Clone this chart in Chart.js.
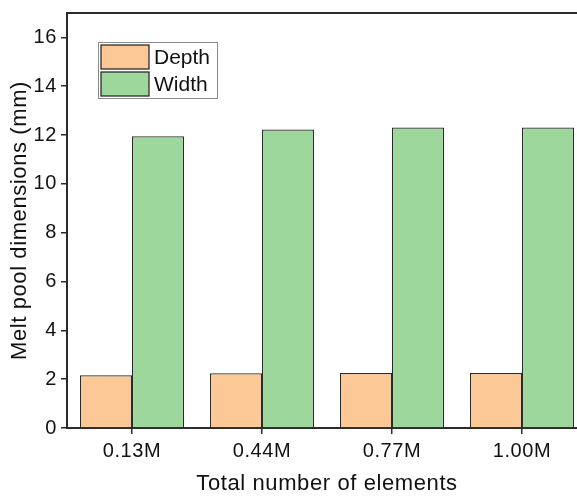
<!DOCTYPE html>
<html>
<head>
<meta charset="utf-8">
<script src="https://cdn.jsdelivr.net/npm/chart.js@4/dist/chart.umd.min.js"></script>
<style>
  html, body { margin: 0; padding: 0; background: #fff; overflow: hidden; }
</style>
</head>
<body>
<canvas id="chart" width="600" height="497"></canvas>
<script>
// categories and series values
const categories = ["0.13M", "0.44M", "0.77M", "1.00M"];
const depth = [2.16, 2.24, 2.25, 2.25];
const width = [11.95, 12.23, 12.31, 12.31];
const seriesNames = ["Depth", "Width"];

const fontFamily = "'Liberation Sans', Arial, Helvetica, sans-serif";
const orange = "#fcc896";
const green = "#9ed79b";
const edge = "#2b2b2b";

// the figure's axis text is slightly loosely tracked
const spacingPlugin = {
    id: 'spacing',
    beforeLayout(chart) { chart.ctx.letterSpacing = '0.6px'; },
    beforeDraw(chart) { chart.ctx.letterSpacing = '0.6px'; }
};

// top frame line + legend box drawn by hand
const framePlugin = {
    id: 'frame',
    afterDraw(chart) {
        let ctx = chart.ctx;
        let a = chart.chartArea;
        ctx.save();
        ctx.letterSpacing = '0px';
        ctx.strokeStyle = edge;
        ctx.lineWidth = 2;
        ctx.beginPath();
        ctx.moveTo(a.left - 1, a.top);
        ctx.lineTo(a.right, a.top);
        ctx.stroke();

        // legend
        let lx = 98, ly = 42;
        ctx.fillStyle = "#fff";
        ctx.fillRect(lx, ly, 119, 56);
        ctx.strokeStyle = "#8a8a8a";
        ctx.lineWidth = 1;
        ctx.strokeRect(lx + 0.5, ly + 0.5, 119, 56);
        let colors = [orange, green];
        ctx.font = "21px " + fontFamily;
        ctx.textBaseline = "middle";
        ctx.textAlign = "left";
        seriesNames.forEach((name, i) => {
            let sy = ly + 3 + i * 27;
            ctx.fillStyle = colors[i];
            ctx.fillRect(lx + 3, sy, 48, 24);
            ctx.strokeStyle = edge;
            ctx.lineWidth = 1.3;
            ctx.strokeRect(lx + 3, sy, 48, 24);
            ctx.fillStyle = "#111";
            ctx.fillText(name, lx + 56, sy + 13);
        });
        ctx.restore();
    }
};

let ctx = document.getElementById('chart').getContext('2d');
new Chart(ctx, {
    type: 'bar',
    data: {
        labels: categories,
        datasets: [{
            label: seriesNames[0],
            data: depth,
            backgroundColor: orange,
            borderColor: edge,
            borderWidth: 1.2,
            categoryPercentage: 0.8,
            barPercentage: 1.0
        }, {
            label: seriesNames[1],
            data: width,
            backgroundColor: green,
            borderColor: edge,
            borderWidth: 1.2,
            categoryPercentage: 0.8,
            barPercentage: 1.0
        }]
    },
    options: {
        responsive: false,
        animation: false,
        layout: {
            padding: { left: 0, top: 13, right: 13, bottom: 0 }
        },
        plugins: {
            legend: { display: false },
            tooltip: { enabled: false }
        },
        scales: {
            x: {
                grid: {
                    offset: false,
                    drawOnChartArea: false,
                    drawTicks: true,
                    tickLength: 6,
                    color: edge,
                    lineWidth: 1.5
                },
                border: { display: true, color: edge, width: 2 },
                ticks: {
                    color: "#111",
                    padding: 5,
                    font: { family: fontFamily, size: 20 }
                },
                title: {
                    display: true,
                    text: "Total number of elements",
                    color: "#111",
                    padding: 0,
                    font: { family: fontFamily, size: 22 }
                },
                afterFit(scale) {
                    scale.height = 69;
                }
            },
            y: {
                min: 0,
                max: 17,
                grid: {
                    drawOnChartArea: false,
                    drawTicks: true,
                    tickLength: 6,
                    color: edge,
                    lineWidth: 1.5
                },
                border: { display: true, color: edge, width: 2 },
                ticks: {
                    stepSize: 2,
                    includeBounds: false,
                    color: "#111",
                    padding: 4,
                    font: { family: fontFamily, size: 20 }
                },
                title: {
                    display: true,
                    text: "Melt pool dimensions (mm)",
                    color: "#111",
                    padding: { top: 7, bottom: 0 },
                    font: { family: fontFamily, size: 22 }
                },
                afterFit(scale) {
                    scale.width = 67;
                    scale.paddingTop = 0;
                    scale.paddingBottom = 0;
                }
            }
        }
    },
    plugins: [spacingPlugin, framePlugin]
});
</script>
</body>
</html>
